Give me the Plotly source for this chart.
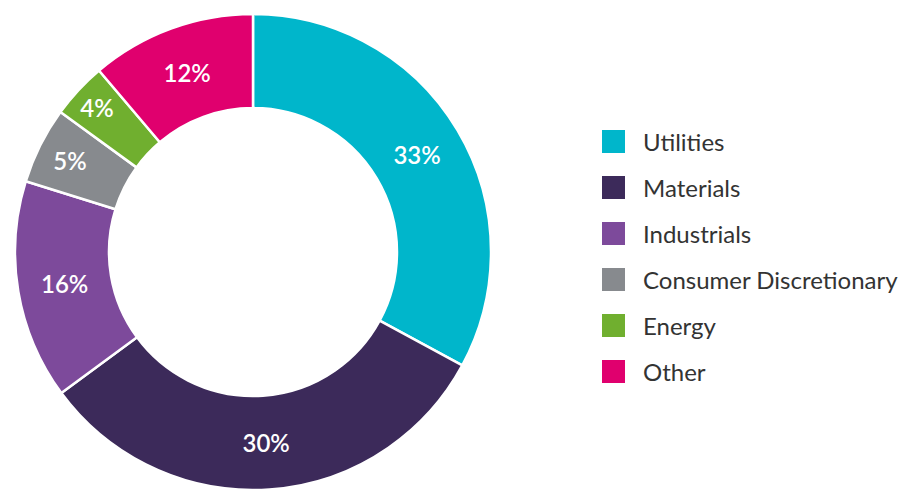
import plotly.graph_objects as go

categories = ["Utilities", "Materials", "Industrials", "Consumer Discretionary", "Energy", "Other"]
# slice sizes as drawn in the reference (angles measured) and the printed labels
shares = [32.9, 32.0, 14.9, 5.2, 3.8, 11.2]
pct_labels = ["33%", "30%", "16%", "5%", "4%", "12%"]
colors = ["#00B6CB", "#3C2A5A", "#7D4A9B", "#878A8E", "#70AF2F", "#E0006E"]

W, H = 909, 491

fig = go.Figure()
fig.add_trace(go.Pie(
    labels=categories,
    values=shares,
    text=pct_labels,
    sort=False,
    direction="clockwise",
    rotation=0,
    hole=0.605,
    marker=dict(colors=colors, line=dict(color="white", width=2.5)),
    texttemplate="%{text}",
    textposition="inside",
    insidetextorientation="horizontal",
    textfont=dict(family="Lato", size=24, color="white", weight=600),
    domain=dict(x=[15 / W, 491 / W], y=[1 / H, 477 / H]),
    showlegend=False,
    hoverinfo="label+text",
))

# custom legend (large square swatches)
shapes = []
annotations = []
x0, sq = 602, 23
y_first, step = 130, 46
for i, (cat, col) in enumerate(zip(categories, colors)):
    top = y_first + i * step
    shapes.append(dict(
        type="rect", xref="paper", yref="paper",
        x0=x0 / W, x1=(x0 + sq) / W,
        y0=1 - (top + sq) / H, y1=1 - top / H,
        fillcolor=col, line=dict(width=0),
    ))
    annotations.append(dict(
        text=cat, xref="paper", yref="paper",
        x=641 / W, y=1 - (top + sq / 2) / H,
        xanchor="left", yanchor="middle", showarrow=False,
        font=dict(family="Lato", size=24, color="#333333"),
    ))

fig.update_layout(
    width=W, height=H,
    margin=dict(l=0, r=0, t=0, b=0),
    paper_bgcolor="white", plot_bgcolor="white",
    shapes=shapes, annotations=annotations,
)

fig.write_html("out.html")
